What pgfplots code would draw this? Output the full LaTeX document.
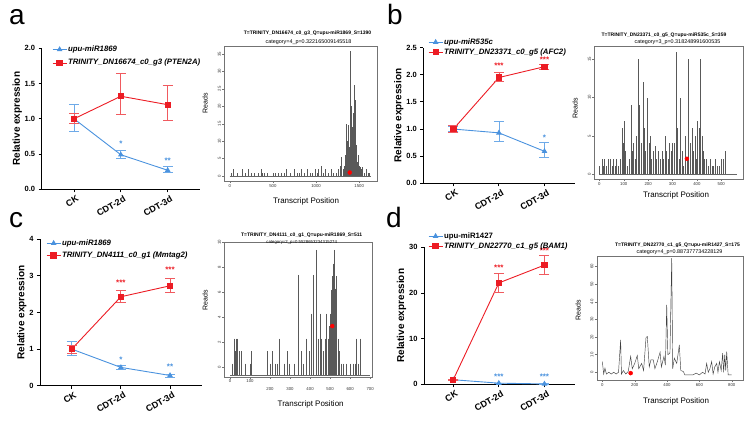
\documentclass[border=0pt]{standalone}
\usepackage{pgfplots}
\pgfplotsset{compat=1.18}
\usepackage{pgfplotstable}
\usepackage{fontspec}
\setmainfont{Liberation Sans}
\definecolor{cblue}{RGB}{74,146,222}
\definecolor{cred}{RGB}{236,28,36}
\definecolor{cblueE}{RGB}{110,170,232}
\definecolor{credE}{RGB}{240,90,95}

% ---------- degradome data ----------
\pgfplotstableread{
x y
20 1
40 2
90 1
150 2
180 1
210 2
250 1
280 1
330 1
360 2
380 1
400 1
430 1
500 1
530 1
560 1
600 1
630 1
660 2
700 1
750 2
780 1
810 1
830 2
860 1
900 2
930 1
960 1
990 2
1010 1
1030 2
1060 3
1080 1
1110 2
1140 1
1170 2
1200 1
1230 1
1260 2
1280 3
1295 5.5
1310 2
1322 3
1340 6
1353 15
1365 10
1372 14.5
1384 8.4
1392 12
1399 36
1405 20
1412 10
1423 14
1430 18
1438 26
1445 12
1453 21.7
1460 9
1469 7
1478 4
1488 6
1498 3
1508 2.7
1520 2
1539 2.7
1560 1
1580 2
1600 1
1620 1
}\dataA

\pgfplotstableread{
x y
0 1
10 2
15 1
20 2
28 1
35 2
45 2
52 1
58 2
65 1
70 2
78 1
85 2
92 6
97 4
103 7
108 3
115 1
122 2
129 9
135 3
140 4
146 2
152 5
160 15
165 9
171 4
178 12
184 6
190 3
197 10
203 4
208 5
214 2
220 3
229 3.7
235 2
242 3
250 2
256 3
262 2
270 5
276 3
282 2
288 4
294 3
300 4
307 4
314 16
320 6
326 2
332 10
338 3
345 1
352 5
359 2
366 15
372 4
380 6
386 3
392 5
398 2
403 7
408 6
414 15
420 5
426 3
432 2
440 2
448 1
455 2
462 1
468 1
475 2
482 1
490 1
500 2
508 2
516 3
}\dataB

\pgfplotstableread{
x y
10 0.3
20 2.3
25 1.3
30 2.3
35 2.3
47 1.3
58 1.3
75 0.3
100 0.3
108 1.3
187 1.3
200 0.3
213 1.3
225 0.3
235 0.3
247 2.3
270 0.3
287 1.3
295 0.3
320 0.3
342 7.4
358 1.3
365 0.3
383 2.3
395 1.3
408 4.3
417 7.4
430 9.4
440 2.3
450 4.3
458 2.3
465 1.3
475 2.3
480 4.3
490 2.3
497 3.3
503 4.3
508 6.2
513 7.3
517 8.3
522 9.4
527 6.3
533 7.3
540 2.3
547 1.3
555 0.3
567 0.3
580 0.3
603 0.3
615 0.3
625 0.3
633 2.3
640 0.3
650 2.3
}\dataC

\pgfplotstableread{
x y
0 6
8 -1
16 2.3
25 -1
40 0
55 -1
70 0
85 -1
100 0
113 18.4
118 -1
130 1
145 -1
160 0.5
175 9
185 2
200 5
216 9.5
225 2
243 5
255 1
270 19.7
278 20.3
290 3
300 7
315 7
325 2
340 6
357 11.4
365 3
381 9
390 4
398 38.3
405 10
418 10.8
429 64.8
435 2
445 8
460 5
476 15.5
485 1
501 0.4
510 -1.5
560 -1.5
580 -0.5
600 -1.5
620 0
635 -1
645 5
655 0
665 2
676 6
685 -1
695 3
707 5
715 0
724 6
735 1
744 10.8
750 0
757 10
763 1
769 11.7
778 -1.5
800 -1.5
}\dataD

\pgfplotsset{
  lc/.style={scale only axis, axis lines*=left,
    axis line style={line width=0.9pt},
    tick align=outside, major tick length=3pt,
    tick style={line width=0.9pt, black},
    xtick={0,1,2}, xticklabels={CK,CDT-2d,CDT-3d},
    xticklabel style={rotate=30, anchor=north east, xshift=4pt, font=\bfseries\fontsize{9}{9}\selectfont},
    yticklabel style={font=\bfseries\fontsize{7.5}{7.5}\selectfont},
    ylabel={Relative expression},
    ylabel style={font=\bfseries\fontsize{10}{10}\selectfont, yshift=-4pt},
    /pgf/number format/assume math mode=true,
    clip=false, legend cell align=left,
    legend style={draw=none, fill=none, anchor=north west,
      font=\bfseries\itshape\fontsize{7.8}{7.8}\selectfont, inner sep=0pt,
      nodes={inner sep=1pt, text height=5.5pt, text depth=1.5pt}},
    legend image code/.code={\draw[mark repeat=2,mark phase=2,##1] plot coordinates {(0pt,0pt) (7pt,0pt) (14pt,0pt)};}},
  bl/.style={color=cblue, line width=0.9pt, mark=triangle*, mark size=2.4pt, mark options={solid},
    error bars/.cd, y dir=both, y explicit,
    error bar style={line width=0.8pt, cblueE},
    error mark options={rotate=90, mark size=5pt, line width=0.8pt, cblueE}},
  rd/.style={color=cred, line width=0.9pt, mark=square*, mark size=2.7pt, mark options={solid},
    error bars/.cd, y dir=both, y explicit,
    error bar style={line width=0.8pt, credE},
    error mark options={rotate=90, mark size=5pt, line width=0.8pt, credE}},
  dg/.style={scale only axis, axis line style={black!55, line width=0.4pt},
    tick align=outside, major tick length=2pt,
    tick style={black!55, line width=0.35pt},
    xtick pos=left, ytick pos=left,
    ticklabel style={font=\fontsize{4.3}{4.3}\selectfont, black!80, inner sep=1pt},
    yticklabel style={rotate=90, anchor=south},
    /pgf/number format/assume math mode=true,
    /pgf/number format/1000 sep={}},
  spk/.style={ycomb, black!65, line width=0.45pt, mark=none},
  dot/.style={only marks, mark=*, mark size=2pt, red, mark options={draw=red, fill=red}},
}

\newcommand{\st}[4]{\node[#1, font=\bfseries\fontsize{8}{8}\selectfont] at (axis cs:#2,#3) {#4};}

\begin{document}
\begin{tikzpicture}
\path[use as bounding box] (0pt,0pt) rectangle (749pt,-427pt);

% panel letters
\node[anchor=base west, inner sep=0pt, font=\fontsize{28}{28}\selectfont] at (9pt,-25pt) {a};
\node[anchor=base west, inner sep=0pt, font=\fontsize{28}{28}\selectfont] at (387pt,-25pt) {b};
\node[anchor=base west, inner sep=0pt, font=\fontsize{28}{28}\selectfont] at (9pt,-228pt) {c};
\node[anchor=base west, inner sep=0pt, font=\fontsize{28}{28}\selectfont] at (386pt,-228pt) {d};

% ===== a: line chart =====
\begin{axis}[lc, at={(41.7pt,-48.3pt)}, anchor=north west,
  width=158.3pt, height=141pt,
  xmin=-0.69, xmax=2.69, ymin=0, ymax=2, ytick={0,0.5,1,1.5,2},
  yticklabel style={/pgf/number format/.cd, fixed, fixed zerofill, precision=1},
  legend style={at={(0.065,1.025)}, row sep=4.5pt}]
\addplot[bl] table[x=x, y=y, y error plus=ep, y error minus=em] {
x y ep em
0 1.00 0.21 0.18
1 0.49 0.06 0.05
2 0.27 0.05 0.03
};
\addlegendentry{upu-miR1869}
\addplot[rd] table[x=x, y=y, y error plus=ep, y error minus=em] {
x y ep em
0 1.00 0.07 0.07
1 1.32 0.33 0.26
2 1.20 0.28 0.22
};
\addlegendentry{TRINITY\_DN16674\_c0\_g3 (PTEN2A)}
\st{cblue}{1}{0.64}{*}
\st{cblue}{2}{0.41}{**}
\end{axis}

% ===== a: degradome =====
\begin{axis}[dg, at={(224pt,-46.7pt)}, anchor=north west,
  width=153pt, height=134.3pt,
  xmin=-66, xmax=1706, ymin=-1.43, ymax=37.1,
  xtick={0,500,1000,1500}, ytick={0,5,...,35}]
\addplot[black!60, line width=0.3pt] coordinates {(0,0) (1640,0)};
\addplot[spk] table[x=x, y=y] {\dataA};
\addplot[dot] coordinates {(1390,1)};
\end{axis}
\node[font=\bfseries\fontsize{5}{5}\selectfont, inner sep=0pt] at (307.5pt,-33.3pt) {T=TRINITY\_DN16674\_c0\_g3\_Q=upu-miR1869\_S=1390};
\node[font=\fontsize{5.4}{5.4}\selectfont, inner sep=0pt] at (308.5pt,-42.3pt) {category=4\_p=0.322165009145518};
\node[font=\fontsize{8}{8}\selectfont, inner sep=0pt] at (306pt,-201pt) {Transcript Position};
\node[font=\fontsize{7}{7}\selectfont, inner sep=0pt, rotate=90] at (205pt,-103pt) {Reads};

% ===== b: line chart =====
\begin{axis}[lc, at={(423.3pt,-47.7pt)}, anchor=north west,
  width=151.7pt, height=135.6pt,
  xmin=-0.66, xmax=2.67, ymin=0, ymax=2.5, ytick={0,0.5,1,1.5,2,2.5},
  yticklabel style={/pgf/number format/.cd, fixed, fixed zerofill, precision=1},
  legend style={at={(0.031,1.075)}, row sep=1.0pt}]
\addplot[bl] table[x=x, y=y, y error plus=ep, y error minus=em] {
x y ep em
0 1.00 0.04 0.04
1 0.93 0.22 0.16
2 0.59 0.16 0.12
};
\addlegendentry{upu-miR535c}
\addplot[rd] table[x=x, y=y, y error plus=ep, y error minus=em] {
x y ep em
0 1.00 0.06 0.06
1 1.95 0.10 0.08
2 2.15 0.05 0.05
};
\addlegendentry{TRINITY\_DN23371\_c0\_g5 (AFC2)}
\st{cred}{1}{2.17}{***}
\st{cred}{2}{2.27}{***}
\st{cblue}{2}{0.84}{*}
\end{axis}

% ===== b: degradome =====
\begin{axis}[dg, at={(594pt,-46.7pt)}, anchor=north west,
  width=148.7pt, height=132.3pt,
  xmin=-22, xmax=588, ymin=-0.64, ymax=16.64,
  xtick={0,100,...,500}, ytick={0,5,10,15}]
\addplot[black!60, line width=0.3pt] coordinates {(0,0) (564,0)};
\addplot[spk] table[x=x, y=y] {\dataB};
\addplot[dot] coordinates {(359,2)};
\end{axis}
\node[font=\bfseries\fontsize{5}{5}\selectfont, inner sep=0pt] at (664pt,-35pt) {T=TRINITY\_DN23371\_c0\_g5\_Q=upu-miR535c\_S=359};
\node[font=\fontsize{5.4}{5.4}\selectfont, inner sep=0pt] at (677.5pt,-42.3pt) {category=3\_p=0.318248991600535};
\node[font=\fontsize{8}{8}\selectfont, inner sep=0pt] at (676pt,-195pt) {Transcript Position};
\node[font=\fontsize{7}{7}\selectfont, inner sep=0pt, rotate=90] at (575pt,-108pt) {Reads};

% ===== c: line chart =====
\begin{axis}[lc, at={(40pt,-239.3pt)}, anchor=north west,
  width=162pt, height=146.4pt,
  xmin=-0.645, xmax=2.65, ymin=0, ymax=4, ytick={0,1,2,3,4},
  legend style={at={(0.037,1.005)}, row sep=3.0pt}]
\addplot[bl] table[x=x, y=y, y error plus=ep, y error minus=em] {
x y ep em
0 1.00 0.20 0.18
1 0.50 0.06 0.05
2 0.28 0.04 0.04
};
\addlegendentry{upu-miR1869}
\addplot[rd] table[x=x, y=y, y error plus=ep, y error minus=em] {
x y ep em
0 1.00 0.10 0.12
1 2.43 0.17 0.16
2 2.73 0.21 0.19
};
\addlegendentry{TRINITY\_DN4111\_c0\_g1 (Mmtag2)}
\st{cred}{1}{2.82}{***}
\st{cred}{2}{3.16}{***}
\st{cblue}{1}{0.70}{*}
\st{cblue}{2}{0.52}{**}
\end{axis}

% ===== c: degradome =====
\begin{axis}[dg, at={(224pt,-242.3pt)}, anchor=north west,
  width=147.7pt, height=134.4pt,
  xmin=-30, xmax=708, ymin=-0.75, ymax=10,
  xtick={0,100}, ytick={0,2,4,6,8,10},
  extra x ticks={200,300,400,500,600,700},
  extra x tick style={tick label style={yshift=-8pt}}]
\addplot[black!60, line width=0.3pt] coordinates {(0,-0.65) (700,-0.65)};
\addplot[draw=none, mark=none, error bars/.cd, y dir=minus, y explicit,
  error bar style={black!65, line width=0.45pt}, error mark=none]
  table[x=x, y=y, y error expr=\thisrow{y}+0.65] {\dataC};
\addplot[dot] coordinates {(511,3.3)};
\end{axis}
\node[font=\bfseries\fontsize{5}{5}\selectfont, inner sep=0pt] at (301.7pt,-235pt) {T=TRINITY\_DN4111\_c0\_g1\_Q=upu-miR1869\_S=511};
\node[font=\fontsize{4.3}{4.3}\selectfont, inner sep=0pt] at (301.7pt,-242.3pt) {category=2\_p=0.5528653234315274};
\node[font=\fontsize{8}{8}\selectfont, inner sep=0pt] at (310.7pt,-404pt) {Transcript Position};
\node[font=\fontsize{7}{7}\selectfont, inner sep=0pt, rotate=90] at (205pt,-300pt) {Reads};

% ===== d: line chart =====
\begin{axis}[lc, at={(424pt,-247.3pt)}, anchor=north west,
  width=151pt, height=137pt,
  xmin=-0.64, xmax=2.67, ymin=0, ymax=30, ytick={0,10,20,30},
  legend style={at={(0.026,1.115)}, row sep=1.0pt}]
\addplot[bl] table[x=x, y=y, y error plus=ep, y error minus=em] {
x y ep em
0 1.00 0.10 0.10
1 0.25 0.05 0.05
2 0.08 0.03 0.03
};
\addlegendentry{\upshape upu-miR1427}
\addplot[rd] table[x=x, y=y, y error plus=ep, y error minus=em] {
x y ep em
0 1.00 0.10 0.10
1 22.2 2.1 2.0
2 26.1 2.2 2.0
};
\addlegendentry{TRINITY\_DN22770\_c1\_g5 (BAM1)}
\st{cred}{1}{25.6}{***}
\st{cred}{2}{29.2}{***}
\st{cblue}{1}{1.6}{***}
\st{cblue}{2}{1.6}{***}
\end{axis}

% ===== d: degradome =====
\begin{axis}[dg, at={(596.7pt,-256pt)}, anchor=north west,
  width=146pt, height=124pt,
  xmin=-35, xmax=868, ymin=-4.4, ymax=66,
  xtick={0,200,400,600,800}, ytick={0,10,...,60}]
\addplot[black!75, line width=0.45pt, mark=none] table[x=x, y=y] {\dataD};
\addplot[dot] coordinates {(175,-0.5)};
\end{axis}
\node[font=\bfseries\fontsize{5}{5}\selectfont, inner sep=0pt] at (677.5pt,-245pt) {T=TRINITY\_DN22770\_c1\_g5\_Q=upu-miR1427\_S=175};
\node[font=\fontsize{5.4}{5.4}\selectfont, inner sep=0pt] at (679.5pt,-252.3pt) {category=4\_p=0.887377734228129};
\node[font=\fontsize{8}{8}\selectfont, inner sep=0pt] at (676pt,-401pt) {Transcript Position};
\node[font=\fontsize{7}{7}\selectfont, inner sep=0pt, rotate=90] at (578pt,-310pt) {Reads};

\end{tikzpicture}
\end{document}
